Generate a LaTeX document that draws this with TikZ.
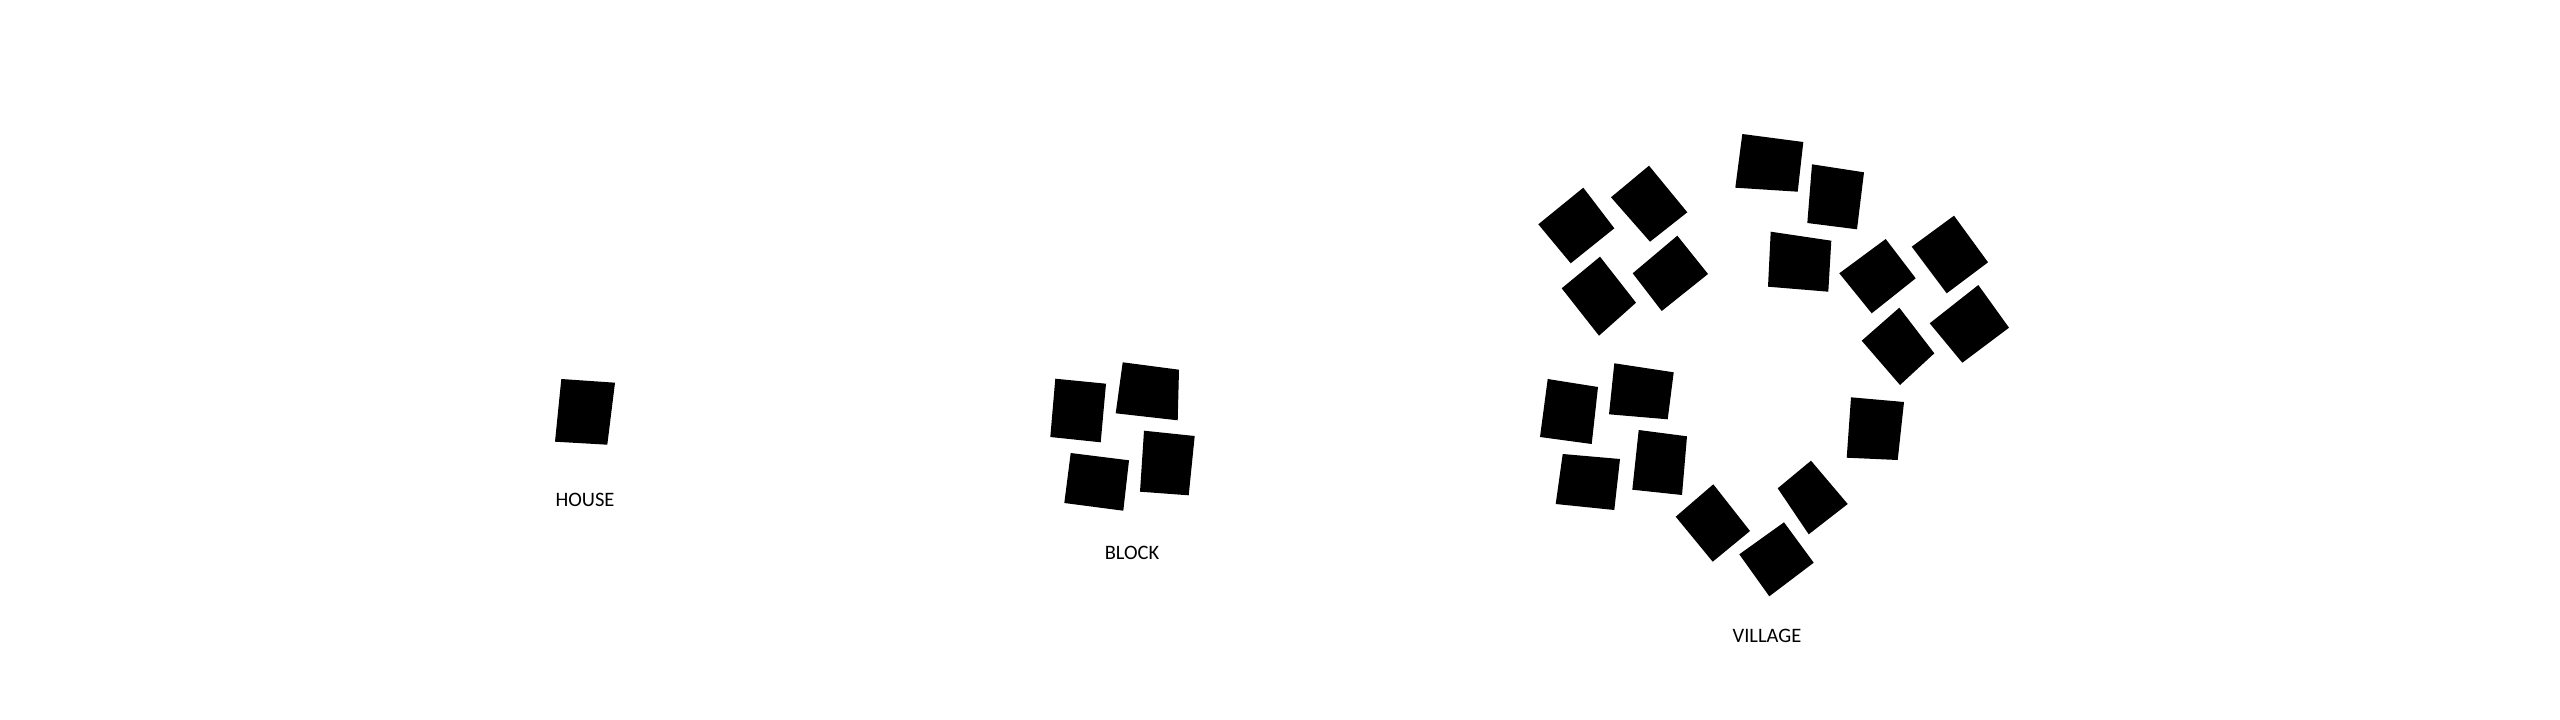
\documentclass[tikz,border=0pt]{standalone}
\usepackage{fontspec}
\setmainfont{Carlito}
\begin{document}
\begin{tikzpicture}[x=1pt,y=-1pt,
  hut/.style={fill=black,draw=none},
  lbl/.style={anchor=base,inner sep=0pt,font=\fontsize{20.5}{24}\selectfont}]
\useasboundingbox[fill=white] (0,0) rectangle (2560,720);
% HOUSE
\fill[hut] (561.3,379) -- (615,382.7) -- (607.3,444.7) -- (555,441.7) -- cycle;
\node[lbl] (house) at (585,506.7) {HOUSE};
% BLOCK
\fill[hut] (1055.3,378.7) -- (1106,383.7) -- (1100.7,442.3) -- (1050.3,437) -- cycle;
\fill[hut] (1122.7,362.3) -- (1179,369.7) -- (1177.7,420.3) -- (1115.7,413.3) -- cycle;
\fill[hut] (1070.7,453) -- (1129,460.3) -- (1123.3,510.7) -- (1064.3,503) -- cycle;
\fill[hut] (1144,430.7) -- (1194.7,436) -- (1188.7,495.3) -- (1140,491.7) -- cycle;
\node[lbl] (block) at (1132,559) {BLOCK};
% VILLAGE
\fill[hut] (1583.3,187.7) -- (1614.3,228.3) -- (1570.7,263.3) -- (1538.3,224.3) -- cycle;
\fill[hut] (1649,165.7) -- (1687.3,212.3) -- (1650,241.7) -- (1611,197.3) -- cycle;
\fill[hut] (1600,256.7) -- (1636,302.7) -- (1599,335.7) -- (1561.7,288.3) -- cycle;
\fill[hut] (1677.3,235.7) -- (1708,274) -- (1661.7,311) -- (1632.7,273.3) -- cycle;
\fill[hut] (1742.3,134) -- (1803.3,142) -- (1797.7,191.7) -- (1735.3,187.7) -- cycle;
\fill[hut] (1812,164.3) -- (1864,172.3) -- (1857,229.3) -- (1807.3,223) -- cycle;
\fill[hut] (1770.7,231.7) -- (1831.3,240.7) -- (1828.3,291.7) -- (1768,286.7) -- cycle;
\fill[hut] (1885.7,239) -- (1915.7,278.3) -- (1871.7,313.3) -- (1839.3,273.3) -- cycle;
\fill[hut] (1954,215.7) -- (1988,262.3) -- (1946.7,293.3) -- (1911.7,246.7) -- cycle;
\fill[hut] (1978.3,285) -- (2009,327.7) -- (1962.3,362.7) -- (1929.7,323.3) -- cycle;
\fill[hut] (1899.3,307.7) -- (1934.3,353.3) -- (1900,385) -- (1861.7,340.7) -- cycle;
\fill[hut] (1547.7,379) -- (1598,387) -- (1591.7,444) -- (1540,437) -- cycle;
\fill[hut] (1614.3,363.3) -- (1673.7,372.3) -- (1667.7,419.3) -- (1609,414.3) -- cycle;
\fill[hut] (1562.7,454) -- (1620,459) -- (1614.3,510) -- (1555.7,504) -- cycle;
\fill[hut] (1638.7,430) -- (1687,436.3) -- (1682,495) -- (1632.3,489.7) -- cycle;
\fill[hut] (1713.3,484.3) -- (1750,531) -- (1712.7,561.7) -- (1675.7,516.7) -- cycle;
\fill[hut] (1784,522.3) -- (1813.7,562.7) -- (1769.3,596.3) -- (1739.3,554.3) -- cycle;
\fill[hut] (1811,460.7) -- (1847.7,504) -- (1808.7,534.3) -- (1777.7,488.3) -- cycle;
\fill[hut] (1851,397.3) -- (1904,402) -- (1897.7,460) -- (1846.7,457.7) -- cycle;
\node[lbl] (village) at (1767,642.3) {VILLAGE};
\end{tikzpicture}
\end{document}
